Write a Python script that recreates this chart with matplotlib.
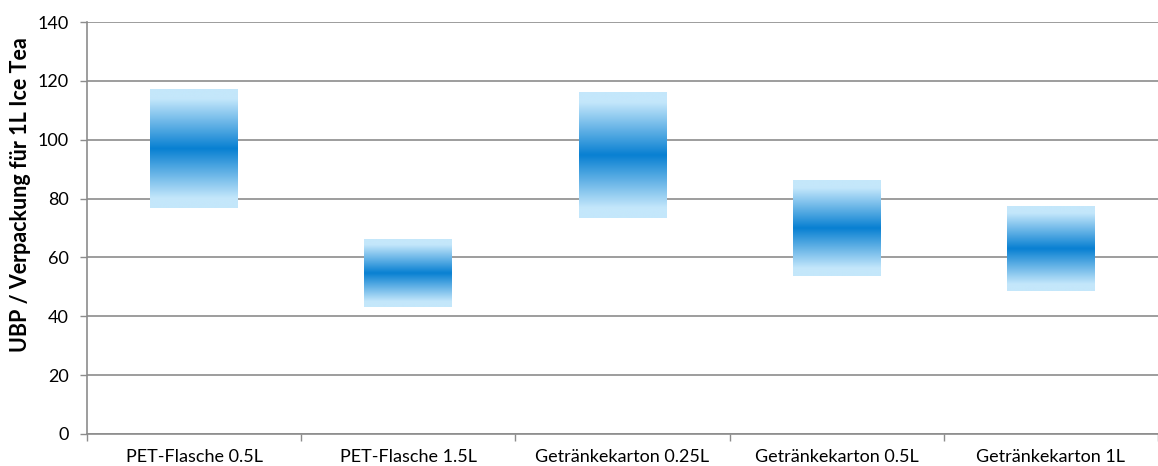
import numpy as np
import matplotlib.pyplot as plt
from matplotlib.colors import LinearSegmentedColormap

categories = ["PET-Flasche 0.5L", "PET-Flasche 1.5L", "Getränkekarton 0.25L",
              "Getränkekarton 0.5L", "Getränkekarton 1L"]
low = [76.9, 43.2, 73.5, 53.7, 48.6]
high = [117.3, 66.2, 116.2, 86.0, 77.4]

plt.rcParams['font.family'] = ['Lato', 'DejaVu Sans']

fig = plt.figure(figsize=(11.58, 4.66), dpi=100)
ax = fig.add_axes([87 / 1158, 32 / 466, 1071 / 1158, 412 / 466])

light = "#c4e7fb"
dark = "#0880d2"
cmap = LinearSegmentedColormap.from_list(
    "grad", [(0, light), (0.08, light), (0.5, dark), (0.92, light), (1, light)])
grad = np.linspace(0, 1, 256).reshape(-1, 1)

bar_w = 0.41
for i, (lo, hi) in enumerate(zip(low, high)):
    ax.imshow(grad, cmap=cmap, aspect="auto", interpolation="bicubic",
              extent=(i - bar_w / 2, i + bar_w / 2, lo, hi), zorder=3)

# plot area is cut off at the right edge of the image
ax.set_xlim(-0.5, -0.5 + 1071 / 216.2)
ax.set_ylim(0, 140)
ax.set_yticks(np.arange(0, 141, 20))
ax.grid(axis="y", color="#8c8c8c", linewidth=1.2, zorder=1)
ax.set_axisbelow(True)

ax.set_xticks(np.arange(len(categories)))
ax.set_xticklabels(categories)
ax.set_xticks(np.arange(-0.5, 4.6, 1), minor=True)
ax.tick_params(axis="x", which="major", length=0, pad=11, labelsize=13)
ax.tick_params(axis="x", which="minor", length=5, color="#8c8c8c", width=1)
ax.tick_params(axis="y", length=5, color="#8c8c8c", width=1, pad=8, labelsize=13)

for s in ["top", "right"]:
    ax.spines[s].set_visible(False)
for s in ["left", "bottom"]:
    ax.spines[s].set_color("#8c8c8c")
    ax.spines[s].set_linewidth(1.2)

ax.set_ylabel("UBP / Verpackung für 1L Ice Tea", fontsize=15.5, fontweight="bold")
ax.yaxis.set_label_coords(-0.052, 0.58)

fig.savefig("out.png", dpi=100)
